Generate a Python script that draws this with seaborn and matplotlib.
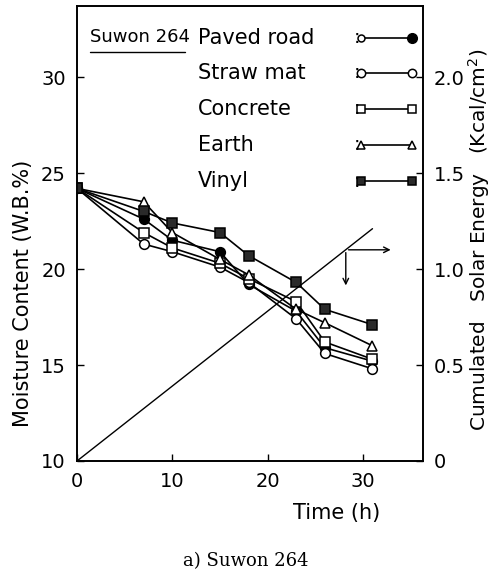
import matplotlib
matplotlib.use("Agg")
import matplotlib.pyplot as plt
import seaborn as sns
import numpy as np
import pandas as pd

# ---- data ----
time_h = [0, 7, 10, 15, 18, 23, 26, 31]
paved_road = [24.2, 22.6, 21.5, 20.9, 19.2, 17.8, 15.9, 15.2]
straw_mat = [24.2, 21.3, 20.9, 20.1, 19.3, 17.4, 15.6, 14.8]
concrete = [24.2, 21.9, 21.1, 20.3, 19.5, 18.3, 16.2, 15.3]
earth = [24.2, 23.5, 21.9, 20.5, 19.7, 17.9, 17.2, 16.0]
vinyl = [24.2, 23.0, 22.4, 21.9, 20.7, 19.3, 17.9, 17.1]
solar_t = [0, 31]
solar_e = [0, 1.21]

series_names = ["Paved road", "Straw mat", "Concrete", "Earth", "Vinyl"]
series_vals = [paved_road, straw_mat, concrete, earth, vinyl]
left_ticks = [10, 15, 20, 25, 30]
right_ticks = [0, 0.5, 1.0, 1.5, 2.0]
right_ticklabels = ["0", "0.5", "1.0", "1.5", "2.0"]
x_ticks = [0, 10, 20, 30]

sns.set_style("ticks")
plt.rcParams["font.family"] = ["DejaVu Sans"]
plt.rcParams["text.color"] = "black"
plt.rcParams["axes.labelcolor"] = "black"
plt.rcParams["xtick.color"] = "black"
plt.rcParams["ytick.color"] = "black"

styles = {
    "Paved road": dict(marker="o", mfc="black"),
    "Straw mat": dict(marker="o", mfc="white"),
    "Concrete": dict(marker="s", mfc="white"),
    "Earth": dict(marker="^", mfc="white"),
    "Vinyl": dict(marker="s", mfc="#2a2a2a"),
}

fig = plt.figure(figsize=(5.02, 5.78), dpi=100)
ax = fig.add_axes([77 / 502, 1 - 461 / 578, 346 / 502, 455 / 578])

for name, vals in zip(series_names, series_vals):
    st = styles[name]
    df = pd.DataFrame({"t": time_h, "m": vals})
    sns.lineplot(data=df, x="t", y="m", ax=ax, color="black", linewidth=1.2,
                 marker=st["marker"], markersize=7, markerfacecolor=st["mfc"],
                 markeredgecolor="black", markeredgewidth=1.1, legend=False,
                 zorder=3)

ax.set_xlim(0, 36.3)
ax.set_ylim(10, 33.7)
ax.set_xticks(x_ticks)
ax.set_yticks(left_ticks)
ax.tick_params(direction="in", length=5, width=1, labelsize=14, colors="black")
ax.tick_params(axis="x", pad=8)
ax.tick_params(axis="y", pad=8)
for s in ax.spines.values():
    s.set_linewidth(1.2)
    s.set_color("black")

ax.set_xlabel("Time (h)", fontsize=15)
ax.xaxis.set_label_coords((337 - 77) / 346, (461 - 503) / 455)
ax.set_ylabel("Moisture Content (W.B.%)", fontsize=15)
ax.yaxis.set_label_coords((33 - 77) / 346, (461 - 293) / 455)

ax2 = ax.twinx()
sdf = pd.DataFrame({"t": solar_t, "e": solar_e})
sns.lineplot(data=sdf, x="t", y="e", ax=ax2, color="black", linewidth=1.0, legend=False)
ax2.set_ylim(0, 2.37)
ax2.set_yticks(right_ticks)
ax2.set_yticklabels(right_ticklabels)
ax2.tick_params(direction="in", length=5, width=1, labelsize=14, colors="black", pad=8)
ax2.set_ylabel("Cumulated   Solar Energy   (Kcal/cm$^2$)", fontsize=14.5)
ax2.yaxis.set_label_coords((466 - 77) / 346, (461 - 240) / 455)
for s in ax2.spines.values():
    s.set_linewidth(1.2)
    s.set_color("black")

# arrows from solar line
ax.annotate("", xy=(33.2, 21.0), xytext=(28.2, 21.0),
            arrowprops=dict(arrowstyle="->", color="black", lw=1.0))
ax.annotate("", xy=(28.2, 19.0), xytext=(28.2, 21.0),
            arrowprops=dict(arrowstyle="->", color="black", lw=1.0))

# legend text block
ax.text(0.038, 0.932, "Suwon 264", transform=ax.transAxes, fontsize=13,
        va="center", ha="left")
ax.plot([0.038, 0.312], [0.900, 0.900], transform=ax.transAxes, color="black", lw=1.0)
rows_y = [0.930, 0.853, 0.774, 0.695, 0.615]
for name, yy in zip(series_names, rows_y):
    st = styles[name]
    ax.text(0.35, yy, name, transform=ax.transAxes, fontsize=15, va="center", ha="left")
    ax.text(0.80, yy, ":", transform=ax.transAxes, fontsize=14, va="center", ha="left")
    ax.plot([0.822, 0.968], [yy, yy], transform=ax.transAxes, color="black", lw=1.2)
    if name == "Paved road":
        ax.plot([0.822], [yy], transform=ax.transAxes, marker="o", ms=5,
                mfc="white", mec="black", mew=1.1, ls="none")
        ax.plot([0.968], [yy], transform=ax.transAxes, marker="o", ms=7,
                mfc="black", mec="black", ls="none")
    else:
        ax.plot([0.822, 0.968], [yy, yy], transform=ax.transAxes, marker=st["marker"],
                ms=6, mfc=st["mfc"], mec="black", mew=1.1, ls="none")

fig.text(246 / 502, 1 - 561 / 578, "a) Suwon 264", fontsize=13, ha="center",
         va="center", family=["DejaVu Serif"])

fig.savefig("out.png", dpi=100)
